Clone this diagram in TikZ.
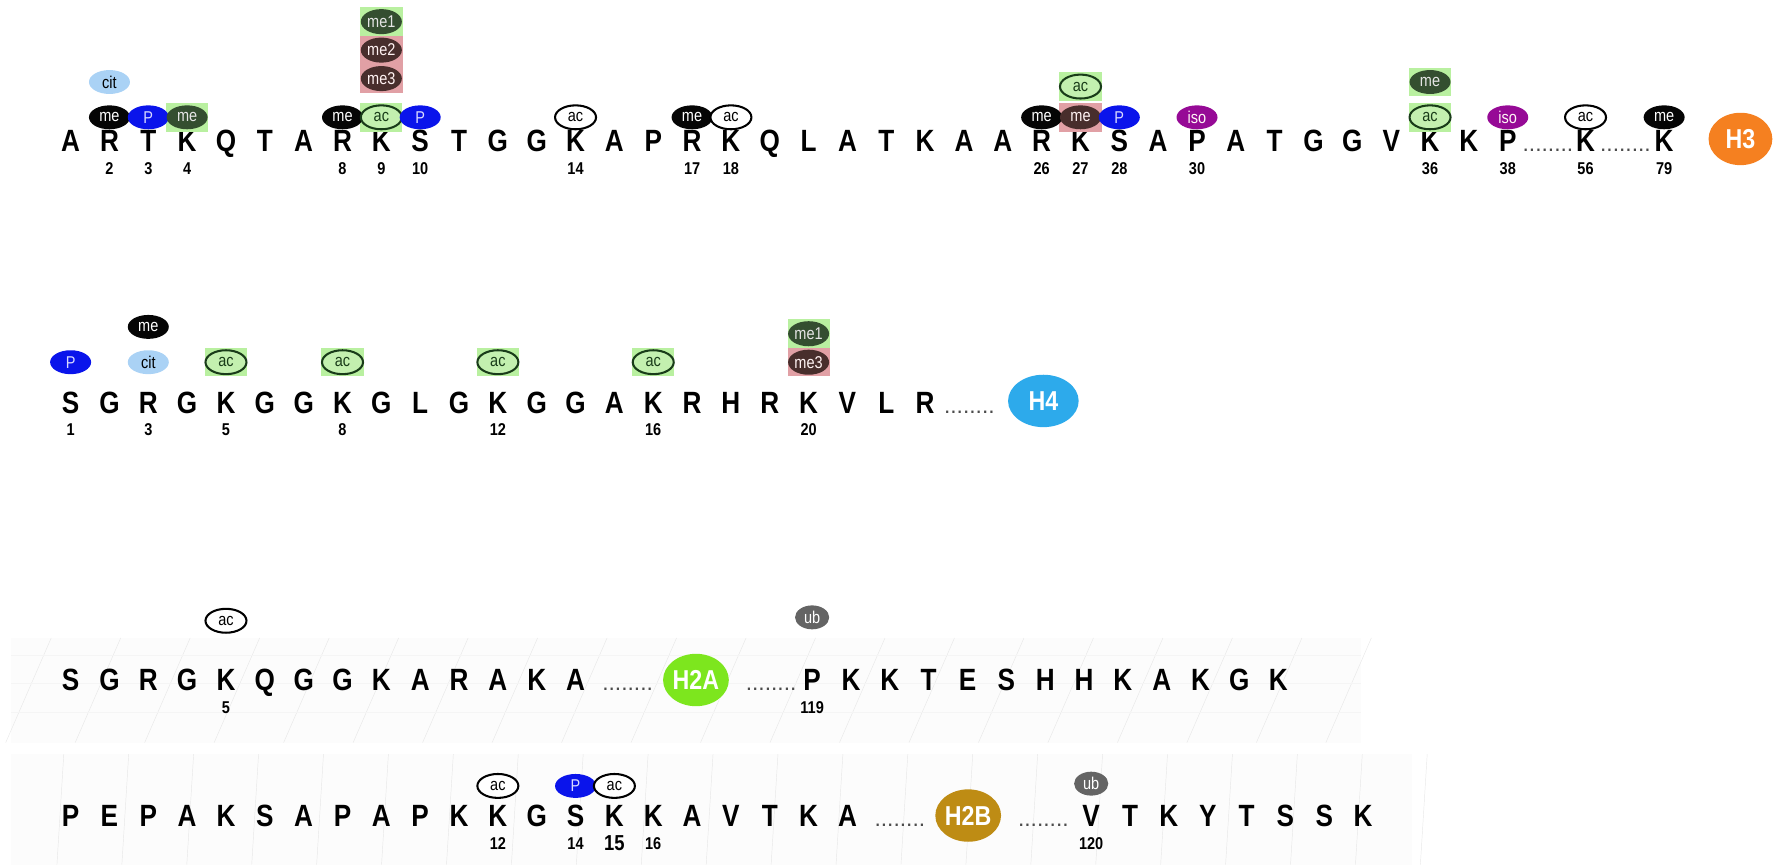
\documentclass[tikz,border=0pt]{standalone}
\usepackage{fontspec}
\setmainfont{Liberation Sans}
\newfontfamily\narrowsf{Liberation Sans}[FakeStretch=0.85]
\usetikzlibrary{
  positioning,
  calc,
  shapes.geometric
}
\definecolor{meblack}{RGB}{5,5,5}
\definecolor{pblue}{RGB}{10,20,235}
\definecolor{medark}{RGB}{52,78,48}
\definecolor{mebrown}{RGB}{72,46,44}
\definecolor{acgreen}{RGB}{195,240,175}
\definecolor{acline}{RGB}{25,60,25}
\definecolor{boxgreen}{RGB}{185,240,160}
\definecolor{boxpink}{RGB}{225,160,165}
\definecolor{citblue}{RGB}{170,210,245}
\definecolor{isopurple}{RGB}{150,10,150}
\definecolor{ubgray}{RGB}{100,100,100}
\definecolor{hthree}{RGB}{245,128,32}
\definecolor{hfour}{RGB}{45,170,235}
\definecolor{htwoa}{RGB}{125,230,30}
\definecolor{htwob}{RGB}{190,140,20}

\begin{document}
\begin{tikzpicture}[
  x=0.5pt, y=-0.5pt,
  every node/.style={inner sep=0},
  res/.style={font=\narrowsf\bfseries\fontsize{13.5}{14}\selectfont, anchor=base},
  resnum/.style={font=\narrowsf\bfseries\fontsize{7.5}{8}\selectfont, anchor=base},
  dotrun/.style={font=\fontsize{10}{10}\selectfont, text=black!70, anchor=base},
  mod/.style={ellipse, minimum width=18pt, minimum height=10.5pt,
              font=\narrowsf\fontsize{7.5}{8}\selectfont},
  me/.style={mod, fill=meblack, text=white},
  phos/.style={mod, fill=pblue, text=white!85!blue},
  megreen/.style={mod, fill=medark, text=white!80!gray},
  mebr/.style={mod, fill=mebrown, text=white!80!pink},
  acg/.style={mod, fill=acgreen, draw=acline, line width=0.9pt, text=acline},
  acw/.style={mod, fill=white, draw=black, line width=0.9pt},
  cit/.style={mod, fill=citblue},
  iso/.style={mod, fill=isopurple, text=white!85!pink},
  ub/.style={mod, fill=ubgray, text=white, minimum width=15pt},
  gbox/.style={fill=boxgreen, minimum width=18.5pt, minimum height=12.5pt},
  pbox/.style={fill=boxpink, minimum width=18.5pt, minimum height=12.5pt},
  histone/.style={ellipse, minimum height=23pt, text=white,
                  font=\narrowsf\bfseries\fontsize{12}{12}\selectfont}
]
\useasboundingbox (0,0) rectangle (1568,759);

% faint paper behind H2A and H2B
\fill[gray!2] (10,560) rectangle (1195,652);
\foreach \k in {0,...,19}
  \draw[gray!18, very thin] ({5+\k*61},652) -- ({45+\k*61},560);
\foreach \k in {575,600,625}
  \draw[gray!8, very thin] (10,\k) -- (1195,\k);
\fill[gray!2] (10,662) rectangle (1240,759);
\foreach \k in {0,...,21}
  \draw[gray!18, very thin] ({50+\k*57},759) -- ({56+\k*57},662);

% ---------------- H3 ----------------
\foreach \c [count=\i] in {A,R,T,K,Q,T,A,R,K,S,T,G,G,K,A,P,R,K,Q,L,A,T,K,A,A,R,
                          K,S,A,P,A,T,G,G,V,K,K,P}
  \node[res] (H3-\i) at ({62+(\i-1)*34.1},133) {\c};
\node[dotrun] (H3-d1) at (1359,133) {........};
\node[res] (H3-56) at (1392,133) {K};
\node[dotrun] (H3-d2) at (1427,133) {........};
\node[res] (H3-79) at (1461,133) {K};
\node[histone, fill=hthree, minimum width=28pt] (H3) at (1528,122) {H3};

\foreach \n in {2,3,4,8,9,10,14,17,18,26,27,28,30,36,38,56,79}
  \node[resnum] (H3-n\n) at (H3-\n |- 0,153) {\n};

% backing squares
\node[gbox] (H3-b4) at (H3-4 |- 0,103) {};
\node[gbox] (H3-b9) at (H3-9 |- 0,103) {};
\node[gbox, minimum width=19pt] (H3-b9a) at (H3-9 |- 0,19) {};
\node[pbox, minimum width=19pt] (H3-b9b) at (H3-9 |- 0,44) {};
\node[pbox, minimum width=19pt] (H3-b9c) at (H3-9 |- 0,69) {};
\node[pbox] (H3-b27) at (H3-27 |- 0,103) {};
\node[gbox] (H3-b27a) at (H3-27 |- 0,76) {};
\node[gbox] (H3-b36) at (H3-36 |- 0,103) {};
\node[gbox] (H3-b36a) at (H3-36 |- 0,72) {};

% marks
\node[cit] (H3-m2a) at (H3-2 |- 0,72) {cit};
\node[me] (H3-m2) at (H3-2 |- 0,103) {me};
\node[phos] (H3-m3) at (H3-3 |- 0,103) {P};
\node[megreen] (H3-m4) at (H3-4 |- 0,103) {me};
\node[me] (H3-m8) at (H3-8 |- 0,103) {me};
\node[acg] (H3-m9) at (H3-9 |- 0,103) {ac};
\node[megreen, minimum height=11pt] (H3-m9a) at (H3-9 |- 0,19) {me1};
\node[mebr, minimum height=11pt] (H3-m9b) at (H3-9 |- 0,44) {me2};
\node[mebr, minimum height=11pt] (H3-m9c) at (H3-9 |- 0,69) {me3};
\node[phos] (H3-m10) at (H3-10 |- 0,103) {P};
\node[acw] (H3-m14) at (H3-14 |- 0,103) {ac};
\node[me] (H3-m17) at (H3-17 |- 0,103) {me};
\node[acw] (H3-m18) at (H3-18 |- 0,103) {ac};
\node[me] (H3-m26) at (H3-26 |- 0,103) {me};
\node[mebr] (H3-m27) at (H3-27 |- 0,103) {me};
\node[acg] (H3-m27a) at (H3-27 |- 0,76) {ac};
\node[phos] (H3-m28) at (H3-28 |- 0,103) {P};
\node[iso] (H3-m30) at (H3-30 |- 0,103) {iso};
\node[acg] (H3-m36) at (H3-36 |- 0,103) {ac};
\node[megreen] (H3-m36a) at (H3-36 |- 0,72) {me};
\node[iso] (H3-m38) at (H3-38 |- 0,103) {iso};
\node[acw] (H3-m56) at (H3-56 |- 0,103) {ac};
\node[me] (H3-m79) at (H3-79 |- 0,103) {me};

% ---------------- H4 ----------------
\foreach \c [count=\i] in {S,G,R,G,K,G,G,K,G,L,G,K,G,G,A,K,R,H,R,K,V,L,R}
  \node[res] (H4-\i) at ({62+(\i-1)*34.1},363) {\c};
\node[dotrun] (H4-d1) at (851,363) {........};
\node[histone, fill=hfour, minimum width=31pt] (H4) at (916,352) {H4};

\foreach \n in {1,3,5,8,12,16,20}
  \node[resnum] (H4-n\n) at (H4-\n |- 0,382) {\n};

\foreach \n in {5,8,12,16}
  \node[gbox] (H4-b\n) at (H4-\n |- 0,318) {};
\node[gbox] (H4-b20a) at (H4-20 |- 0,293) {};
\node[pbox] (H4-b20) at (H4-20 |- 0,318) {};

\node[phos] (H4-m1) at (H4-1 |- 0,318) {P};
\node[cit] (H4-m3) at (H4-3 |- 0,318) {cit};
\node[me] (H4-m3a) at (H4-3 |- 0,287) {me};
\foreach \n in {5,8,12,16}
  \node[acg] (H4-m\n) at (H4-\n |- 0,318) {ac};
\node[megreen, minimum height=11pt] (H4-m20a) at (H4-20 |- 0,293) {me1};
\node[mebr, minimum height=11pt] (H4-m20) at (H4-20 |- 0,318) {me3};

% ---------------- H2A ----------------
\foreach \c [count=\i] in {S,G,R,G,K,Q,G,G,K,A,R,A,K,A}
  \node[res] (H2A-\i) at ({62+(\i-1)*34.1},606) {\c};
\node[dotrun] (H2A-d1) at (551,606) {........};
\node[histone, fill=htwoa, minimum width=28pt] (H2A) at (611,597) {H2A};
\node[dotrun] (H2A-d2) at (677,606) {........};
\foreach \c [count=\i from 119] in {P,K,K,T,E,S,H,H,K,A,K,G,K}
  \node[res] (H2A-\i) at ({713+(\i-119)*34.1},606) {\c};

\node[resnum] (H2A-n5) at (H2A-5 |- 0,626) {5};
\node[resnum] (H2A-n119) at (H2A-119 |- 0,626) {119};
\node[acw] (H2A-m5) at (H2A-5 |- 0,545) {ac};
\node[ub] (H2A-m119) at (H2A-119 |- 0,542) {ub};

% ---------------- H2B ----------------
\foreach \c [count=\i] in {P,E,P,A,K,S,A,P,A,P,K,K,G,S,K,K,A,V,T,K,A}
  \node[res] (H2B-\i) at ({62+(\i-1)*34.1},726) {\c};
\node[dotrun] (H2B-d1) at (790,726) {........};
\node[histone, fill=htwob, minimum width=28pt] (H2B) at (850,716) {H2B};
\node[dotrun] (H2B-d2) at (916,726) {........};
\foreach \c [count=\i from 120] in {V,T,K,Y,T,S,S,K}
  \node[res] (H2B-\i) at ({958+(\i-120)*34.1},726) {\c};

\foreach \n in {12,14,16,120}
  \node[resnum] (H2B-n\n) at (H2B-\n |- 0,746) {\n};
\node[resnum, font=\narrowsf\bfseries\fontsize{9.5}{10}\selectfont] (H2B-n15)
  at (H2B-15 |- 0,747) {15};

\node[acw] (H2B-m12) at (H2B-12 |- 0,690) {ac};
\node[phos] (H2B-m14) at (H2B-14 |- 0,690) {P};
\node[acw] (H2B-m15) at (H2B-15 |- 0,690) {ac};
\node[ub] (H2B-m120) at (H2B-120 |- 0,688) {ub};

\end{tikzpicture}
\end{document}
